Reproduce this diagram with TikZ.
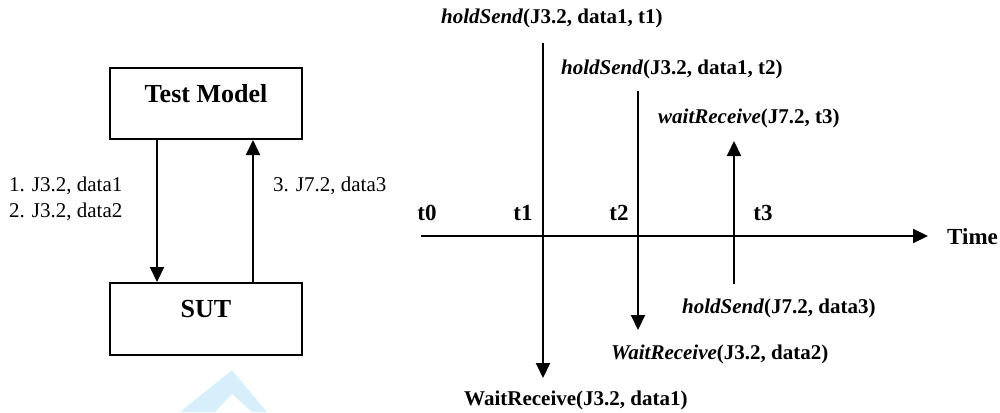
\documentclass[tikz,border=0pt]{standalone}
\usepackage{fontspec}
\setmainfont{Liberation Serif}
\usetikzlibrary{arrows.meta}
\definecolor{wmblue}{RGB}{214,239,251}
\tikzset{
  box/.style={draw, line width=2pt, minimum width=192pt, minimum height=71pt, inner sep=0pt},
  arr/.style={line width=2pt, -{Triangle[length=15pt,width=14pt]}},
  boxtext/.style={font=\fontsize{26}{30}\selectfont\bfseries, inner sep=0pt},
  lab/.style={font=\fontsize{21}{26}\selectfont, inner sep=0pt, anchor=west},
  ev/.style={font=\fontsize{21}{25}\selectfont\bfseries, inner sep=0pt, anchor=west},
  tl/.style={font=\fontsize{23}{26}\selectfont\bfseries, inner sep=0pt},
}
\begin{document}
\begin{tikzpicture}[x=1pt,y=-1pt]
\useasboundingbox (0,0) rectangle (1000,412);
% watermark
\fill[wmblue, even odd rule] (232,370) -- (180,412) -- (267,412) -- cycle
  (232,394) -- (215,412) -- (252,412) -- cycle;

% left diagram
\node[box] (tm) at (206,103.5) {};
\node[boxtext] (tmt) at (206,94) {Test Model};
\node[box, minimum height=72pt] (sut) at (206,319) {};
\node[boxtext] (sutt) at (206,309) {SUT};
\draw[arr] ([xshift=48pt]tm.south west) -- ([xshift=48pt]sut.north west);
\draw[arr] ([xshift=144pt]sut.north west) -- ([xshift=144pt]tm.south west);
\node[lab] (l1) at (9,186) {1. J3.2, data1};
\node[lab] (l2) at (9,212) {2. J3.2, data2};
\node[lab] (l3) at (273,186) {3. J7.2, data3};

% time line
\coordinate (ax0) at (421,236);
\coordinate (ax1) at (928,236);
\draw[arr] (ax0) -- (ax1);
\node[tl, anchor=west] (time) at (947,237) {Time};
\node[tl] (t0) at (427,213) {t0};
\node[tl] (t1) at (523,213) {t1};
\node[tl] (t2) at (619,213) {t2};
\node[tl] (t3) at (763,213) {t3};

% events
\node[ev] (hs1) at (441,18) {\textit{holdSend}(J3.2, data1, t1)};
\node[ev] (hs2) at (561,69) {\textit{holdSend}(J3.2, data1, t2)};
\node[ev] (wr3) at (658,118) {\textit{waitReceive}(J7.2, t3)};
\node[ev] (hs3) at (682,308) {\textit{holdSend}(J7.2, data3)};
\node[ev] (wr2) at (611,354) {\textit{WaitReceive}(J3.2, data2)};
\node[ev] (wr1) at (464,400) {WaitReceive(J3.2, data1)};

\coordinate (v1a) at (543,43);
\coordinate (v1b) at (543,378);
\coordinate (v2a) at (638,91);
\coordinate (v2b) at (638,330);
\coordinate (v3a) at (734,284);
\coordinate (v3b) at (734,141);
\draw[arr] (v1a) -- (v1b);
\draw[arr] (v2a) -- (v2b);
\draw[arr] (v3a) -- (v3b);
\end{tikzpicture}
\end{document}
